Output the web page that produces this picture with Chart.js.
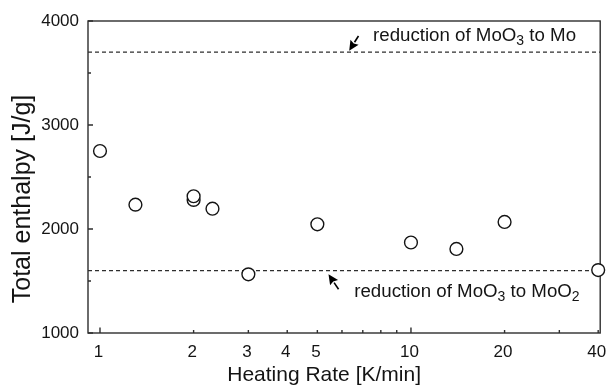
<!DOCTYPE html>
<html><head><meta charset="utf-8">
<script src="https://cdn.jsdelivr.net/npm/chart.js@4"></script>
<style>html,body{margin:0;padding:0;background:#fff}</style>
</head><body>
<canvas id="c" width="608" height="386" style="display:block"></canvas>
<script>
// ---- data ----
const heatingRate = [1, 1.3, 2, 2, 2.3, 3, 5, 10, 14, 20, 40];
const enthalpy    = [2750, 2234, 2280, 2315, 2195, 1564, 2045, 1870, 1808, 2068, 1605];
const refLevels   = [3700, 1600];
const xRange = [0.915, 40.6];
const yRange = [1000, 4000];
const xTickValues = [1, 2, 3, 4, 5, 6, 7, 8, 9, 10, 20, 30, 40];
const xTickLabels = ['1', '2', '3', '4', '5', '', '', '', '', '10', '20', '', '40'];
const xMajorTicks = [1, 10];
const yTickValues = [1000, 1500, 2000, 2500, 3000, 3500, 4000];
const yTickLabels = ['1000', '', '2000', '', '3000', '', '4000'];
const xTitle = 'Heating Rate [K/min]';
const yTitle = 'Total enthalpy [J/g]';
// annotation text pieces: [text, isSubscript]
const annoUpperText = [['reduction of MoO', 0], ['3', 1], [' to Mo', 0]];
const annoLowerText = [['reduction of MoO', 0], ['3', 1], [' to MoO', 0], ['2', 1]];
// annotation anchors in data units
const annoUpper = { text: [7.55, 3803], tip: [6.33, 3714], tail: [6.78, 3856] };
const annoLower = { text: [6.57, 1343], tip: [5.43, 1564], tail: [5.85, 1420] };

const FAM = '"Liberation Sans", Arial, Helvetica, sans-serif';
const INK = '#141414';
const AXIS = '#2e2e2e';

const decor = {
  id: 'decor',
  beforeDatasetsDraw(chart) {
    const { ctx, chartArea: a, scales: { x, y } } = chart;
    ctx.save();
    ctx.strokeStyle = AXIS; ctx.lineWidth = 1.4;
    ctx.strokeRect(a.left, a.top, a.right - a.left, a.bottom - a.top);
    ctx.beginPath();
    xTickValues.forEach(v => {
      const px = x.getPixelForValue(v);
      const len = xMajorTicks.includes(v) ? 5.5 : 3;
      ctx.moveTo(px, a.bottom); ctx.lineTo(px, a.bottom - len);
    });
    yTickValues.forEach((v, i) => {
      const py = y.getPixelForValue(v);
      const len = yTickLabels[i] ? 5 : 3;
      ctx.moveTo(a.left, py); ctx.lineTo(a.left + len, py);
    });
    ctx.stroke();
    // x tick labels
    ctx.fillStyle = INK;
    ctx.font = '17px ' + FAM;
    ctx.textAlign = 'center'; ctx.textBaseline = 'alphabetic';
    xTickValues.forEach((v, i) => {
      if (xTickLabels[i]) ctx.fillText(xTickLabels[i], x.getPixelForValue(v) - 1.5, a.bottom + 23.7);
    });
    // axis titles
    ctx.font = '21px ' + FAM;
    ctx.fillText(xTitle, (a.left + a.right) / 2 - 20, a.bottom + 48);
    ctx.save();
    ctx.translate(a.left - 65, (a.top + a.bottom) / 2 + 22);
    ctx.rotate(-Math.PI / 2);
    ctx.font = '25px ' + FAM;
    ctx.textBaseline = 'middle';
    ctx.fillText(yTitle, 0, 0);
    ctx.restore();
    // annotations
    [[annoUpper, annoUpperText], [annoLower, annoLowerText]].forEach(([an, parts]) => {
      let tx = x.getPixelForValue(an.text[0]);
      const ty = y.getPixelForValue(an.text[1]);
      ctx.textAlign = 'left';
      parts.forEach(([t, sub]) => {
        ctx.font = (sub ? '14px ' : '18.7px ') + FAM;
        ctx.fillText(t, tx, ty + (sub ? 4 : 0));
        tx += ctx.measureText(t).width;
      });
      const x1 = x.getPixelForValue(an.tail[0]), y1 = y.getPixelForValue(an.tail[1]);
      const x2 = x.getPixelForValue(an.tip[0]), y2 = y.getPixelForValue(an.tip[1]);
      const ang = Math.atan2(y2 - y1, x2 - x1);
      const hl = 10, hw = 4.8;
      const bx = x2 - hl * Math.cos(ang), by = y2 - hl * Math.sin(ang);
      ctx.strokeStyle = '#000'; ctx.lineWidth = 1.6;
      ctx.beginPath(); ctx.moveTo(x1, y1); ctx.lineTo(bx, by); ctx.stroke();
      ctx.fillStyle = '#000';
      ctx.beginPath();
      ctx.moveTo(x2, y2);
      ctx.lineTo(bx + hw * Math.sin(ang), by - hw * Math.cos(ang));
      ctx.lineTo(bx + 1.5 * Math.cos(ang), by + 1.5 * Math.sin(ang));
      ctx.lineTo(bx - hw * Math.sin(ang), by + hw * Math.cos(ang));
      ctx.closePath(); ctx.fill();
      ctx.fillStyle = INK;
    });
    ctx.restore();
  }
};

const points = heatingRate.map((v, i) => ({ x: v, y: enthalpy[i] }));
const refSets = refLevels.map(l => ({
  type: 'line',
  data: [{ x: xRange[0], y: l }, { x: xRange[1], y: l }],
  showLine: true, borderColor: AXIS, borderWidth: 1.3, borderDash: [4, 3],
  pointRadius: 0, fill: false
}));

new Chart(document.getElementById('c'), {
  type: 'scatter',
  data: {
    datasets: [{
      data: points,
      pointStyle: 'circle', pointRadius: 6.4, pointBorderWidth: 1.4,
      borderColor: INK, backgroundColor: '#fff', clip: false
    }, ...refSets]
  },
  options: {
    responsive: false, animation: false, devicePixelRatio: 1, events: [],
    layout: { padding: { left: 0, right: 6, top: 21, bottom: 0 } },
    plugins: { legend: { display: false }, tooltip: { enabled: false } },
    scales: {
      x: {
        type: 'logarithmic', min: xRange[0], max: xRange[1],
        ticks: { display: false },
        grid: { display: false, drawTicks: false }, border: { display: false },
        afterBuildTicks(s) { s.ticks = xTickValues.map(v => ({ value: v })); },
        afterFit(s) { s.height = 53; }
      },
      y: {
        type: 'linear', min: yRange[0], max: yRange[1],
        ticks: {
          stepSize: 500, padding: 9, color: INK, font: { size: 17, family: FAM },
          callback: v => { const i = yTickValues.indexOf(v); return i >= 0 ? yTickLabels[i] : ''; }
        },
        grid: { display: false, drawTicks: false }, border: { display: false },
        afterFit(s) { s.width = 88; }
      }
    }
  },
  plugins: [decor]
});
</script>
</body></html>
